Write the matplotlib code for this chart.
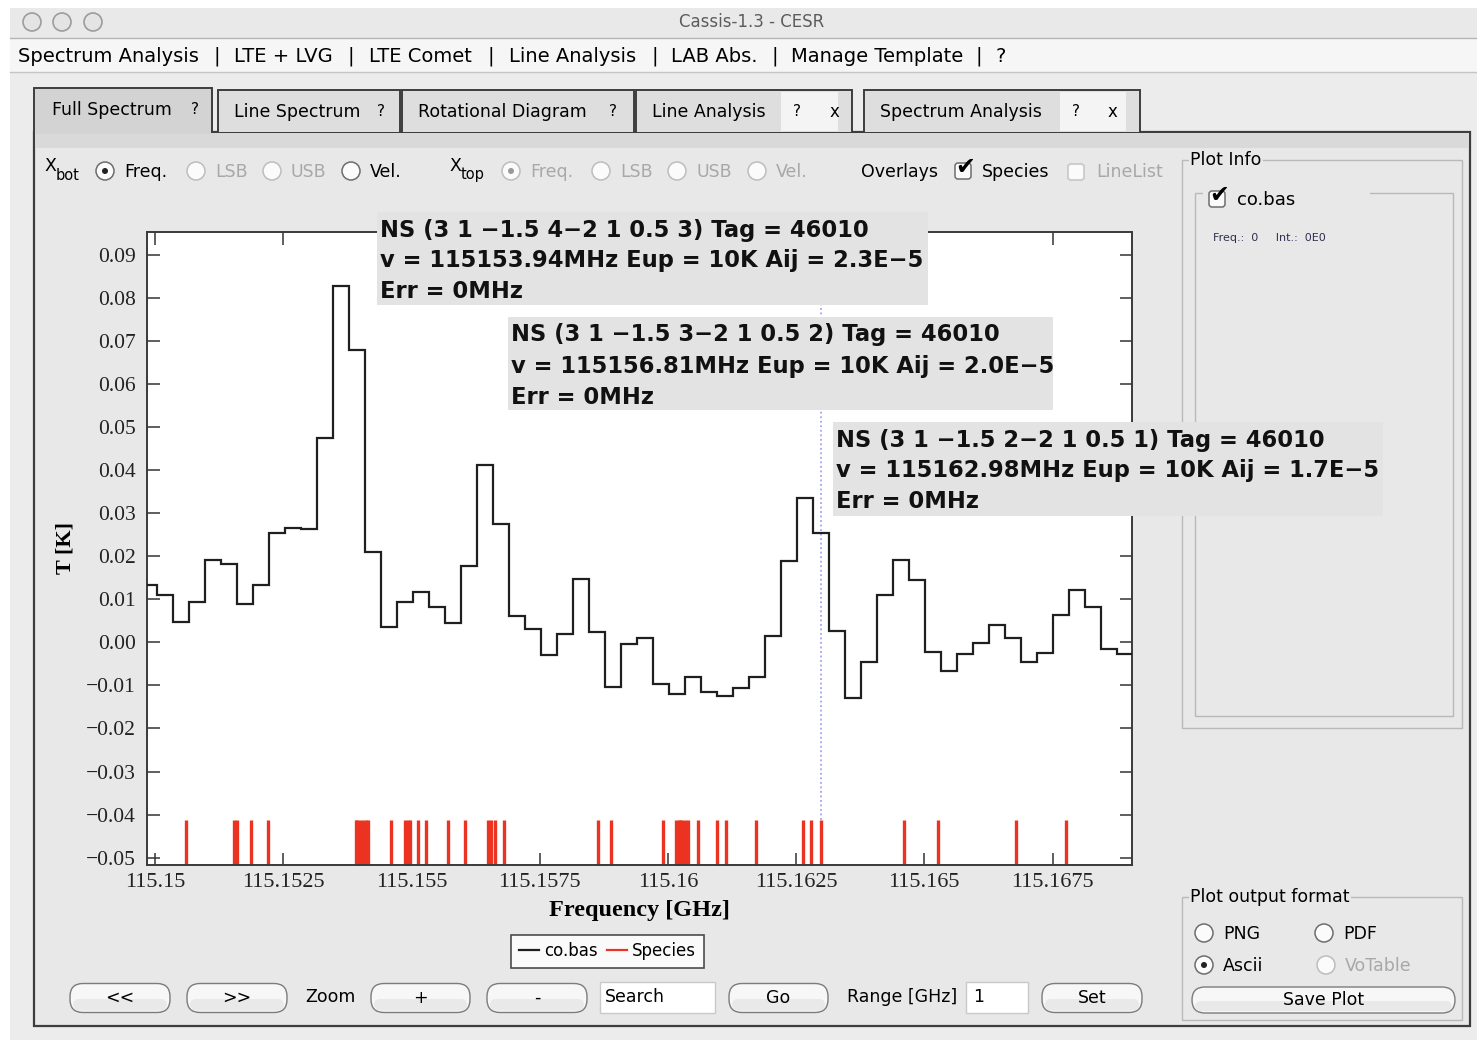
import numpy as np
import matplotlib
matplotlib.use("Agg")
import matplotlib.pyplot as plt
from matplotlib.patches import Rectangle, FancyBboxPatch, Circle, Polygon
from matplotlib.lines import Line2D
from matplotlib.transforms import Affine2D

W, H = 1477, 1053

# ---- co.bas spectrum: regular channel grid (MHz) and temperature per channel (K)
chan_start_mhz = 115149.721
chan_width_mhz = 0.312
t_kelvin = [0.0133, 0.0110, 0.0048, 0.0094, 0.0190, 0.0181, 0.0088, 0.0133, 0.0253, 0.0266,
            0.0264, 0.0475, 0.0828, 0.0678, 0.0210, 0.0036, 0.0094, 0.0117, 0.0081, 0.0044,
            0.0176, 0.0412, 0.0275, 0.0062, 0.0032, -0.0030, 0.0019, 0.0148, 0.0024, -0.0104,
            -0.0005, 0.0011, -0.0097, -0.0120, -0.0081, -0.0115, -0.0125, -0.0106, -0.0080, 0.0014,
            0.0189, 0.0336, 0.0254, 0.0027, -0.0129, -0.0046, 0.0109, 0.0191, 0.0145, -0.0023,
            -0.0067, -0.0026, -0.0002, 0.0041, 0.0009, -0.0045, -0.0025, 0.0063, 0.0121, 0.0081,
            -0.0016, -0.0028]

# ---- species transitions overlaid (GHz)
species_ghz = [115.150604, 115.151540, 115.151593, 115.151866, 115.152197,
               115.153910, 115.153940, 115.153990, 115.154050, 115.154110, 115.154160,
               115.154601, 115.154870, 115.154930, 115.154970, 115.155122, 115.155284,
               115.155707, 115.156050, 115.156498, 115.156550, 115.156629, 115.156810,
               115.158643, 115.158891, 115.159899, 115.160158, 115.160217, 115.160236,
               115.160275, 115.160334, 115.160392, 115.160590, 115.160957, 115.161127,
               115.161712, 115.162628, 115.162790, 115.162980, 115.164609, 115.165260,
               115.166787, 115.167756]
species_top = -0.0412
selected_ghz = 115.16298

x_ticks = [115.15, 115.1525, 115.155, 115.1575, 115.16, 115.1625, 115.165, 115.1675]
x_labels = ["115.15", "115.1525", "115.155", "115.1575", "115.16", "115.1625", "115.165", "115.1675"]
y_ticks = [-0.05, -0.04, -0.03, -0.02, -0.01, 0.0, 0.01, 0.02, 0.03, 0.04, 0.05, 0.06, 0.07, 0.08, 0.09]
y_labels = [f"{v:.2f}".replace("-", "\u2212") for v in y_ticks]

tooltips = [
    ("NS (3 1 \u22121.5 4\u22122 1 0.5 3) Tag = 46010", "v = 115153.94MHz Eup = 10K Aij = 2.3E\u22125", "Err = 0MHz"),
    ("NS (3 1 \u22121.5 3\u22122 1 0.5 2) Tag = 46010", "v = 115156.81MHz Eup = 10K Aij = 2.0E\u22125", "Err = 0MHz"),
    ("NS (3 1 \u22121.5 2\u22122 1 0.5 1) Tag = 46010", "v = 115162.98MHz Eup = 10K Aij = 1.7E\u22125", "Err = 0MHz"),
]

GUI = "DejaVu Sans"
SERIF = "Liberation Serif"

fig = plt.figure(figsize=(W / 100, H / 100), dpi=100, facecolor="white")
# pixel coordinates, origin at top-left
T = Affine2D().scale(1 / W, -1 / H).translate(0, 1) + fig.transFigure


def rect(x0, y0, x1, y1, fc, ec="none", lw=1.0, z=-5):
    fig.add_artist(Rectangle((x0, y0), x1 - x0, y1 - y0, transform=T, fc=fc, ec=ec, lw=lw, zorder=z))


def txt(x, y, s, size=12.5, color="black", ha="left", va="center", z=-1, **kw):
    fig.text(x, y, s, transform=T, fontsize=size, color=color, ha=ha, va=va,
             family=kw.pop("family", GUI), zorder=z, **kw)


def button(x0, x1, yc, label, h=29, size=12.5):
    fig.add_artist(FancyBboxPatch((x0, yc - h / 2), x1 - x0, h, transform=T,
                                  boxstyle="round,pad=0,rounding_size=13",
                                  fc="#f7f7f7", ec="#7c7c7c", lw=1.0, zorder=-3))
    fig.add_artist(FancyBboxPatch((x0 + 3, yc + 1), x1 - x0 - 6, h / 2 - 3, transform=T,
                                  boxstyle="round,pad=0,rounding_size=6",
                                  fc="#e9e9e9", ec="none", zorder=-3))
    txt((x0 + x1) / 2, yc, label, size=size, ha="center")


def radio(x, y, on=False, enabled=True):
    ec = "#6d6d6d" if enabled else "#bdbdbd"
    fig.add_artist(Circle((x, y), 9, transform=T, fc="#fbfbfb", ec=ec, lw=1.1, zorder=-3))
    if on:
        fig.add_artist(Circle((x, y), 3, transform=T, fc="#222222" if enabled else "#9a9a9a",
                              ec="none", zorder=-2))


def checkbox(x, y, on=False, enabled=True):
    ec = "#6d6d6d" if enabled else "#c4c4c4"
    fig.add_artist(FancyBboxPatch((x - 8, y - 8), 16, 16, transform=T,
                                  boxstyle="round,pad=0,rounding_size=3",
                                  fc="#fbfbfb", ec=ec, lw=1.1, zorder=-3))
    if on:
        txt(x + 2, y - 4, "\u2714", size=17, ha="center", z=-2)


# ---- window chrome
rect(10, 8, W, 1040, "#ececec")
rect(10, 8, W, 38, "#e9e9e9")
fig.add_artist(Line2D([10, W], [38, 38], transform=T, color="#b5b5b5", lw=1, zorder=-4))
for cx in (32, 62, 93):
    fig.add_artist(Circle((cx, 22), 9, transform=T, fc="#e4e4e4", ec="#9c9c9c", lw=1.2, zorder=-3))
txt(752, 22, "Cassis-1.3 - CESR", size=12, color="#5c5c5c", ha="center")

rect(10, 39, W, 72, "#f6f6f6")
fig.add_artist(Line2D([10, W], [72, 72], transform=T, color="#c4c4c4", lw=1, zorder=-4))
menu = [(18, "Spectrum Analysis"), (213, "|"), (234, "LTE + LVG"), (348, "|"), (369, "LTE Comet"),
        (488, "|"), (509, "Line Analysis"), (651, "|"), (671, "LAB Abs."), (772, "|"),
        (791, "Manage Template"), (976, "|"), (996, "?")]
for mx, ms in menu:
    txt(mx, 56, ms, size=14)

# ---- tab panel
rect(34, 132, 1470, 1026, "#e8e8e8", ec="#3d3d3d", lw=1.6)
rect(35, 133, 1469, 148, "#d9d9d9")
tabs = [(218, 400, "Line Spectrum", [(381, "?")]),
        (402, 634, "Rotational Diagram", [(613, "?")]),
        (636, 852, "Line Analysis", [(797, "?"), (834, "x")]),
        (864, 1140, "Spectrum Analysis", [(1076, "?"), (1112, "x")])]
for x0, x1, lab, extras in tabs:
    fig.add_artist(Polygon([(x0, 132), (x0, 90), (x1, 90), (x1, 132)], closed=False, transform=T,
                           fc="#dedede", ec="#3d3d3d", lw=1.4, zorder=-4))
    if len(extras) > 1:
        rect(extras[0][0] - 16, 92, x1 - 14, 131, "#f4f4f4", z=-4)
    txt(x0 + 16, 112, lab, size=12.5)
    for ex, es in extras:
        txt(ex, 112, es, size=11 if es == "?" else 12, ha="center")
fig.add_artist(Polygon([(34, 133), (34, 88), (212, 88), (212, 133)], closed=False, transform=T,
                       fc="#d3d3d3", ec="#3d3d3d", lw=1.4, zorder=-4))
rect(35.5, 89, 211, 134, "#d3d3d3", z=-4)
txt(52, 110, "Full Spectrum", size=12.5)
txt(195, 110, "?", size=11, ha="center")

# ---- axis-choice controls
txt(44, 166, "X", size=12.5)
txt(56, 175, "bot", size=10.5)
radio(105, 171, on=True)
txt(124, 172, "Freq.", size=12.5)
gray = "#a8a8a8"
radio(196, 171, enabled=False)
txt(215, 172, "LSB", size=12.5, color=gray)
radio(272, 171, enabled=False)
txt(291, 172, "USB", size=12.5, color=gray)
radio(351, 171)
txt(370, 172, "Vel.", size=12.5)
txt(449, 166, "X", size=12.5)
txt(461, 175, "top", size=10.5)
radio(511, 171, on=True, enabled=False)
txt(530, 172, "Freq.", size=12.5, color=gray)
radio(601, 171, enabled=False)
txt(620, 172, "LSB", size=12.5, color=gray)
radio(677, 171, enabled=False)
txt(696, 172, "USB", size=12.5, color=gray)
radio(757, 171, enabled=False)
txt(776, 172, "Vel.", size=12.5, color=gray)
txt(861, 172, "Overlays", size=12.5)
checkbox(963, 171, on=True)
txt(982, 172, "Species", size=12.5)
checkbox(1076, 172, enabled=False)
txt(1096, 172, "LineList", size=12.5, color=gray)

# ---- plot info group
rect(1182, 160, 1462, 728, "none", ec="#b9b9b9", lw=1.0, z=-4)
txt(1190, 160, "Plot Info", size=12.5,
    bbox=dict(fc="#e8e8e8", ec="none", pad=1))
rect(1195, 193, 1453, 716, "none", ec="#b9b9b9", lw=1.0, z=-4)
rect(1203, 186, 1370, 201, "#e8e8e8", z=-4)
checkbox(1217, 199, on=True)
txt(1237, 200, "co.bas", size=13)
txt(1213, 238, "Freq.:  0     Int.:  0E0", size=8, color="#2f3050")

# ---- output format group
rect(1182, 897, 1462, 1020, "none", ec="#b9b9b9", lw=1.0, z=-4)
txt(1190, 897, "Plot output format", size=12.5, bbox=dict(fc="#e8e8e8", ec="none", pad=1))
radio(1204, 933)
txt(1223, 934, "PNG", size=12.5)
radio(1324, 933)
txt(1343, 934, "PDF", size=12.5)
radio(1204, 965, on=True)
txt(1223, 966, "Ascii", size=12.5)
radio(1326, 965, enabled=False)
txt(1345, 966, "VoTable", size=12.5, color=gray)
button(1192, 1455, 1000, "Save Plot", h=26)

# ---- navigation row
button(70, 170, 998, "<<")
button(187, 287, 998, ">>")
txt(305, 997, "Zoom", size=12.5)
button(371, 470, 998, "+")
button(487, 587, 998, "-")
rect(600, 982, 715, 1013, "#ffffff", ec="#c9c9c9", lw=1.0, z=-4)
txt(605, 997, "Search", size=12.5)
button(729, 828, 998, "Go")
txt(847, 997, "Range [GHz]", size=12.5)
rect(966, 982, 1028, 1013, "#ffffff", ec="#c9c9c9", lw=1.0, z=-4)
txt(973, 997, "1", size=12.5)
button(1042, 1142, 998, "Set")

# ---- spectrum axes
ax_l, ax_r, ax_t, ax_b = 147, 1131.7, 232, 865
ax = fig.add_axes([ax_l / W, 1 - ax_b / H, (ax_r - ax_l) / W, (ax_b - ax_t) / H])
ax.set_facecolor("white")

edges_ghz = (chan_start_mhz + chan_width_mhz * np.arange(len(t_kelvin) + 1)) / 1000.0
ax.stairs(t_kelvin, edges_ghz, baseline=None, color="#1f1f1f", lw=1.6, label="co.bas", zorder=3)

x_lo, x_hi = 115.149844, 115.169043
y_lo, y_hi = -0.05169, 0.09524
ax.vlines(species_ghz, y_lo, species_top, color="#ec3322", lw=2.4, zorder=2, label="Species")
ax.axvline(selected_ghz, color="#9ea4f4", lw=1.3, ls=(0, (1, 1.5)), zorder=1)

ax.set_xlim(x_lo, x_hi)
ax.set_ylim(y_lo, y_hi)
ax.set_xticks(x_ticks)
ax.set_xticklabels(x_labels, family=SERIF, fontsize=16, color="#222222")
ax.set_yticks(y_ticks)
ax.set_yticklabels(y_labels, family=SERIF, fontsize=15.5, color="#222222")
ax.tick_params(direction="in", length=9, width=1.1, color="#333333",
               top=True, right=True, pad=8)
ax.tick_params(axis="x", pad=6)
for lab in ax.get_xticklabels():
    lab.set_x(lab.get_position()[0])
for sp in ax.spines.values():
    sp.set_color("#3a3a3a")
    sp.set_linewidth(1.4)

ax.set_xlabel("Frequency [GHz]", family=SERIF, fontsize=17.5, fontweight="bold")
ax.xaxis.set_label_coords(0.5, -0.055)
ax.set_ylabel("T [K]", family=SERIF, fontsize=16, fontweight="bold")
ax.yaxis.set_label_coords(-0.073, 0.5)

leg_handles = [Line2D([], [], color="#1f1f1f", lw=1.6), Line2D([], [], color="#ec3322", lw=1.6)]
leg = ax.legend(leg_handles, ["co.bas", "Species"], loc="center",
                bbox_to_anchor=(607.5 / W, 1 - 951 / H), bbox_transform=fig.transFigure,
                ncol=2, frameon=True, fancybox=False, edgecolor="#222222",
                handlelength=1.2, handletextpad=0.3, columnspacing=0.6, borderpad=0.45,
                prop={"family": GUI, "size": 12})
leg.get_frame().set_linewidth(1.2)

# ---- transition tooltips over the plot
boxes = [(377, 212, 928, 305), (508, 317, 1053, 410), (833, 422, 1383, 516)]
for (x0, y0, x1, y1), lines in zip(boxes, tooltips):
    rect(x0, y0, x1, y1, "#e3e3e3", z=5)
    for i, line in enumerate(lines):
        txt(x0 + 3, y0 + 18 + 31 * i, line, size=16.3, fontweight="bold", color="#111111", z=6)

fig.savefig("out.png", dpi=100, facecolor="white")
